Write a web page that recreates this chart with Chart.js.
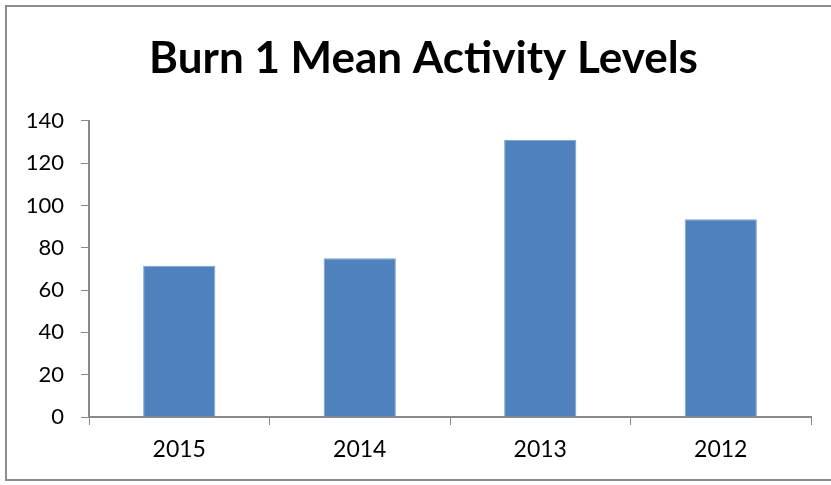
<!DOCTYPE html>
<html>
<head>
<meta charset="utf-8">
<script src="https://cdn.jsdelivr.net/npm/chart.js@4.4.0/dist/chart.umd.min.js"></script>
<style>
    body { margin: 0; background: #fff; }
    #frame {
        position: absolute; left: 5px; top: 5px; width: 840px; height: 476px;
        border: 2px solid #8c8c8c; box-sizing: border-box;
    }
    #chart { position: absolute; left: 0; top: 0; }
</style>
</head>
<body>
<div id="frame"></div>
<canvas id="chart" width="831" height="485"></canvas>
<script>
const years = ['2015', '2014', '2013', '2012'];
const meanActivity = [71.5, 75, 131, 93.5];
const yTicks = [0, 20, 40, 60, 80, 100, 120, 140];

const axisGray = '#8a8a8a';

// title in the reference sits a bit right of the canvas centre
const shiftTitle = {
    id: 'shiftTitle',
    afterLayout(chart) {
        if (chart.titleBlock) chart.titleBlock.left += 36;
    }
};

document.addEventListener('DOMContentLoaded', () => {
    const ctx = document.getElementById('chart').getContext('2d');
    new Chart(ctx, {
        type: 'bar',
        data: {
            labels: years,
            datasets: [{
                label: 'Burn 1',
                data: meanActivity,
                backgroundColor: '#4f81bd',
                borderColor: '#7aa0cf',
                borderWidth: 1,
                barPercentage: 0.4,
                categoryPercentage: 1
            }]
        },
        options: {
            responsive: false,
            animation: false,
            layout: { padding: { left: 0, right: 20, top: 0, bottom: 0 } },
            plugins: {
                legend: { display: false },
                tooltip: { enabled: false },
                title: {
                    display: true,
                    text: 'Burn 1 Mean Activity Levels',
                    color: '#000',
                    font: { family: 'Lato', size: 44, weight: 'bold', lineHeight: 1.2 },
                    padding: { top: 32, bottom: 36 }
                }
            },
            scales: {
                x: {
                    offset: true,
                    grid: {
                        offset: true,
                        drawOnChartArea: false,
                        drawTicks: true,
                        tickLength: 8,
                        color: axisGray
                    },
                    border: { color: axisGray, width: 2 },
                    ticks: {
                        color: '#000',
                        padding: 11,
                        font: { family: 'Lato', size: 23 }
                    },
                    afterFit: scale => { scale.height = 68; }
                },
                y: {
                    min: 0,
                    max: 140,
                    afterBuildTicks: scale => { scale.ticks = yTicks.map(v => ({ value: v })); },
                    grid: {
                        drawOnChartArea: false,
                        drawTicks: true,
                        tickLength: 8,
                        color: axisGray
                    },
                    border: { color: axisGray, width: 2 },
                    ticks: {
                        color: '#000',
                        padding: 17,
                        font: { family: 'Lato', size: 22 }
                    },
                    afterFit: scale => { scale.width = 89; }
                }
            }
        },
        plugins: [shiftTitle]
    });
});
</script>
</body>
</html>
